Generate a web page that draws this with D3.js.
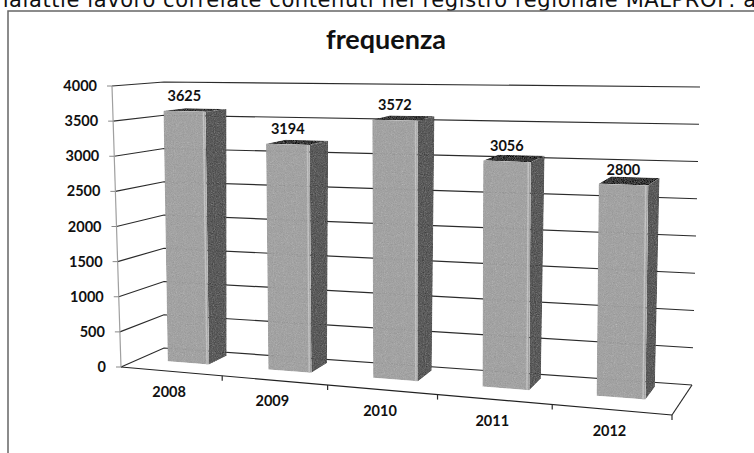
<!DOCTYPE html>
<html lang="it">
<head>
  <meta charset="UTF-8">
  <title>frequenza</title>
  <script src="https://d3js.org/d3.v7.min.js"></script>
  <style>
    body { margin: 0; background: #fff; }
    text { font-family: Lato, "Open Sans", sans-serif; font-weight: 700; fill: #111; }
    .grid { fill: none; stroke: #2b2b2b; stroke-width: 1.2px; }
  </style>
</head>
<body>
  <div id="chart"></div>
  <script>
    // dati
    const years = ["2008", "2009", "2010", "2011", "2012"];
    const freq = [3625, 3194, 3572, 3056, 2800];
    const yTicks = [0, 500, 1000, 1500, 2000, 2500, 3000, 3500, 4000];

    const width = 754, height = 453;

    const svg = d3.select("#chart").append("svg")
      .attr("width", width).attr("height", height);

    // grana della scansione
    const defs = svg.append("defs");
    const f = defs.append("filter").attr("id", "grain");
    f.append("feTurbulence").attr("type", "fractalNoise").attr("baseFrequency", 0.9)
      .attr("numOctaves", 2).attr("seed", 3).attr("result", "n");
    f.append("feColorMatrix").attr("in", "n").attr("type", "saturate").attr("values", 0).attr("result", "g");
    f.append("feComposite").attr("in", "SourceGraphic").attr("in2", "g").attr("operator", "arithmetic")
      .attr("k1", 0).attr("k2", 1).attr("k3", 0.36).attr("k4", -0.19).attr("result", "m");
    f.append("feComposite").attr("in", "m").attr("in2", "SourceGraphic").attr("operator", "in");

    // testo tagliato in alto (riga della pagina sopra il grafico)
    svg.append("text")
      .attr("x", -12).attr("y", 7)
      .attr("textLength", 768)
      .style("font-family", "'DejaVu Sans', sans-serif")
      .style("font-weight", 400)
      .style("font-size", "21px")
      .text("malattie lavoro correlate contenuti nel registro regionale MALPROF: a");

    // cornice
    svg.append("path")
      .attr("d", "M8,460 L8,11 L760,11")
      .attr("fill", "none").attr("stroke", "#666").attr("stroke-width", 1.5);

    svg.append("text")
      .attr("x", 386).attr("y", 49)
      .attr("text-anchor", "middle")
      .style("font-size", "27px")
      .text("frequenza");

    // scatola 3D (angoli pavimento e soffitto)
    const floor = { fl: [121, 367], fr: [672, 415], bl: [164, 348], br: [692, 385] };
    const ceil = { fl: [112, 86], fr: [674, 100], bl: [164, 82], br: [700, 87] };

    const xBand = d3.scaleBand().domain(years).range([0, 1])
      .paddingInner(0.585).paddingOuter(0.2925);
    const yVal = d3.scaleLinear().domain([0, 4000]).range([0, 1]);

    const k = 0.9; // prospettiva lungo l'asse delle categorie
    const warp = u => k * u / (1 + (k - 1) * u);
    const lerp = (a, b, t) => [a[0] + (b[0] - a[0]) * t, a[1] + (b[1] - a[1]) * t];
    const bil = (c, s, w) => lerp(lerp(c.fl, c.fr, s), lerp(c.bl, c.br, s), w);
    const P = (u, v, w) => {
      const s = warp(u);
      return lerp(bil(floor, s, w), bil(ceil, s, w), v);
    };

    const line = d3.line();
    const poly = d3.line().curve(d3.curveLinearClosed);

    // griglia: parete sinistra + parete di fondo
    svg.append("g").selectAll("path")
      .data(yTicks).enter().append("path")
      .attr("class", "grid")
      .attr("d", t => line([P(0, yVal(t), 0), P(0, yVal(t), 1), P(1, yVal(t), 1)]));

    // pavimento: bordo destro e asse delle categorie
    svg.append("path").attr("class", "grid")
      .attr("d", line([P(1, 0, 0), P(1, 0, 1)]));
    svg.append("path").attr("class", "grid").style("stroke", "#222")
      .attr("d", line([P(0, 0, 0), P(1, 0, 0)]));

    // tacche asse categorie
    const bounds = years.map((d, i) => (i + 1) / years.length);
    svg.append("g").selectAll("path")
      .data(bounds).enter().append("path")
      .attr("class", "grid")
      .attr("d", u => { const p = P(u, 0, 0); return line([p, [p[0], p[1] + 5]]); });

    // asse dei valori
    svg.append("path")
      .attr("d", line([P(0, 0, 0), P(0, 1, 0)]))
      .attr("stroke", "#a0a0a0").attr("stroke-width", 1.2).attr("fill", "none");
    svg.append("g").selectAll("path")
      .data(yTicks).enter().append("path")
      .attr("stroke", "#888").attr("fill", "none")
      .attr("d", t => { const p = P(0, yVal(t), 0); return line([[p[0] - 5, p[1]], p]); });

    svg.append("g").selectAll("text")
      .data(yTicks).enter().append("text")
      .attr("x", t => P(0, yVal(t), 0)[0] - 15)
      .attr("y", t => P(0, yVal(t), 0)[1])
      .attr("dy", "0.35em")
      .attr("text-anchor", "end")
      .style("font-size", "14.5px")
      .text(t => t);

    // barre
    const w0 = 0.42, w1 = 0.86;
    const bw = xBand.bandwidth();
    const bars = svg.append("g").attr("filter", "url(#grain)")
      .selectAll("g").data(years).enter().append("g");

    bars.append("path").attr("fill", "#7a7a7a")
      .attr("d", (d, i) => {
        const u1 = xBand(d) + bw, v = yVal(freq[i]);
        return poly([P(u1, 0, w0), P(u1, 0, w1), P(u1, v, w1), P(u1, v, w0)]);
      });
    bars.append("path").attr("fill", "#686868")
      .attr("d", (d, i) => {
        const u0 = xBand(d), u1 = u0 + bw, v = yVal(freq[i]);
        return poly([P(u0, v, w0), P(u1, v, w0), P(u1, v, w1), P(u0, v, w1)]);
      });
    bars.append("path").attr("fill", "#b2b2b2")
      .attr("d", (d, i) => {
        const u0 = xBand(d), u1 = u0 + bw, v = yVal(freq[i]);
        return poly([P(u0, 0, w0), P(u1, 0, w0), P(u1, v, w0), P(u0, v, w0)]);
      });
    bars.append("path").attr("stroke", "#cdcdcd").attr("stroke-width", 1.5).attr("fill", "none")
      .attr("d", (d, i) => {
        const u1 = xBand(d) + bw - 0.004, v = yVal(freq[i]);
        return line([P(u1, 0, w0), P(u1, v, w0)]);
      });

    // etichette valori
    svg.append("g").selectAll("text")
      .data(years).enter().append("text")
      .attr("x", (d, i) => P(xBand(d) + bw / 2, yVal(freq[i]), w0)[0])
      .attr("y", (d, i) => P(xBand(d) + bw / 2, yVal(freq[i]), w0)[1] - 15)
      .attr("dy", "0.35em")
      .attr("text-anchor", "middle")
      .style("font-size", "14.5px")
      .text((d, i) => freq[i]);

    // etichette categorie
    svg.append("g").selectAll("text")
      .data(years).enter().append("text")
      .attr("x", d => P(xBand(d) + bw / 2, 0, 0)[0] - 2)
      .attr("y", d => P(xBand(d) + bw / 2, 0, 0)[1] + 21)
      .attr("dy", "0.35em")
      .attr("text-anchor", "middle")
      .style("font-size", "14.5px")
      .text(d => d);
  </script>
</body>
</html>
